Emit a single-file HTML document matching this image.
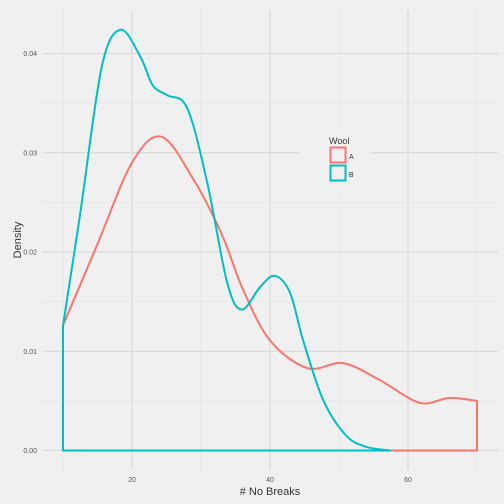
<!DOCTYPE html>
<html><head><meta charset="utf-8"><style>
body{margin:0;background:#f0f0f0}
svg{display:block;font-family:"Liberation Sans",sans-serif}
</style></head><body>
<svg width="504" height="504" viewBox="0 0 504 504">
<rect width="504" height="504" fill="#f0f0f0"/>
<g id="grid"></g>
<g id="series"></g>
<g id="axes"></g>
<text x="270" y="495" font-size="11" fill="#333" text-anchor="middle"># No Breaks</text>
<text x="21" y="240" font-size="11" fill="#333" text-anchor="middle" transform="rotate(-90 21 240)">Density</text>
<g>
<rect x="300" y="130" width="70" height="60" fill="#f0f0f0"/>
<text x="329" y="144" font-size="9" fill="#333">Wool</text>
<rect x="330.5" y="147.5" width="15" height="15" fill="#f0f0f0" stroke="#F8766D" stroke-width="2"/>
<rect x="330.5" y="165.5" width="15" height="15" fill="#f0f0f0" stroke="#00BFC4" stroke-width="2"/>
<text x="349" y="159" font-size="7" fill="#333">A</text>
<text x="349" y="177" font-size="7" fill="#333">B</text>
</g>
</svg>
<script>
const xTicks=[20,40,60];
const yTicks=[0,0.01,0.02,0.03,0.04];
const yTickLabels=["0.00","0.01","0.02","0.03","0.04"];
const aX=[10,15,20,24.3,29,33,36.1,40,45.4,50.6,55.9,61.7,66,70];
const aY=[0.0126,0.0208,0.0290,0.0316,0.0272,0.0218,0.0162,0.0111,0.0083,0.0088,0.0071,0.0048,0.0053,0.005];
const bX=[10,12.5,15.6,18.3,21.2,23,25.1,28,30.9,33.8,35.9,38.6,40.7,42.9,44.8,47.7,50.9,53.8,57.4];
const bY=[0.0126,0.0239,0.0386,0.0424,0.0397,0.0368,0.0358,0.0345,0.027,0.0169,0.0142,0.0165,0.0176,0.0159,0.0111,0.0051,0.0016,0.0004,0];
const sx=v=>63+(v-10)*6.9;
const sy=v=>450.5-v*9925;
const NS="http://www.w3.org/2000/svg";
function mk(t,a,p){const e=document.createElementNS(NS,t);for(const k in a)e.setAttribute(k,a[k]);p.appendChild(e);return e;}
const grid=document.getElementById('grid'),axes=document.getElementById('axes'),series=document.getElementById('series');
for(const v of [10,30,50,70]){const l=mk('line',{x1:sx(v),x2:sx(v),y1:10,y2:470,stroke:'#e2e2e2','stroke-width':0.6},grid);

}
for(const v of [0.005,0.015,0.025,0.035]){const l=mk('line',{x1:43,x2:498,y1:sy(v),y2:sy(v),stroke:'#e2e2e2','stroke-width':0.6},grid);

}
xTicks.forEach(v=>{const l=mk('line',{x1:sx(v),x2:sx(v),y1:10,y2:470,stroke:'#d6d6d6','stroke-width':1},grid);


const t=mk('text',{x:sx(v),y:482,'font-size':7,fill:'#555','text-anchor':'middle'},axes);t.textContent=v;

});
yTicks.forEach((v,i)=>{const l=mk('line',{x1:43,x2:498,y1:sy(v),y2:sy(v),stroke:'#d6d6d6','stroke-width':1},grid);


const t=mk('text',{x:37,y:sy(v)+2.5,'font-size':7,fill:'#555','text-anchor':'end'},axes);t.textContent=yTickLabels[i];

});
function smooth(xs,ys){const p=xs.map((x,i)=>[sx(x),sy(ys[i])]);let d='M'+p[0][0]+','+p[0][1];
for(let i=0;i<p.length-1;i++){const p0=p[i-1]||p[i],p1=p[i],p2=p[i+1],p3=p[i+2]||p2;
d+=` C${p1[0]+(p2[0]-p0[0])/6},${p1[1]+(p2[1]-p0[1])/6} ${p2[0]-(p3[0]-p1[0])/6},${p2[1]-(p3[1]-p1[1])/6} ${p2[0]},${p2[1]}`;}return d;}
function draw(xs,ys,col,name){const last=xs[xs.length-1],first=xs[0];
const d=smooth(xs,ys)+` L${sx(last)},${sy(0)} L${sx(first)},${sy(0)} Z`;
const e=mk('path',{d:d,fill:'none',stroke:col,'stroke-width':2,'stroke-linejoin':'round'},series);

}
draw(aX,aY,'#F8766D','density-wool-a');
draw(bX,bY,'#00BFC4','density-wool-b');
</script>
</body></html>
